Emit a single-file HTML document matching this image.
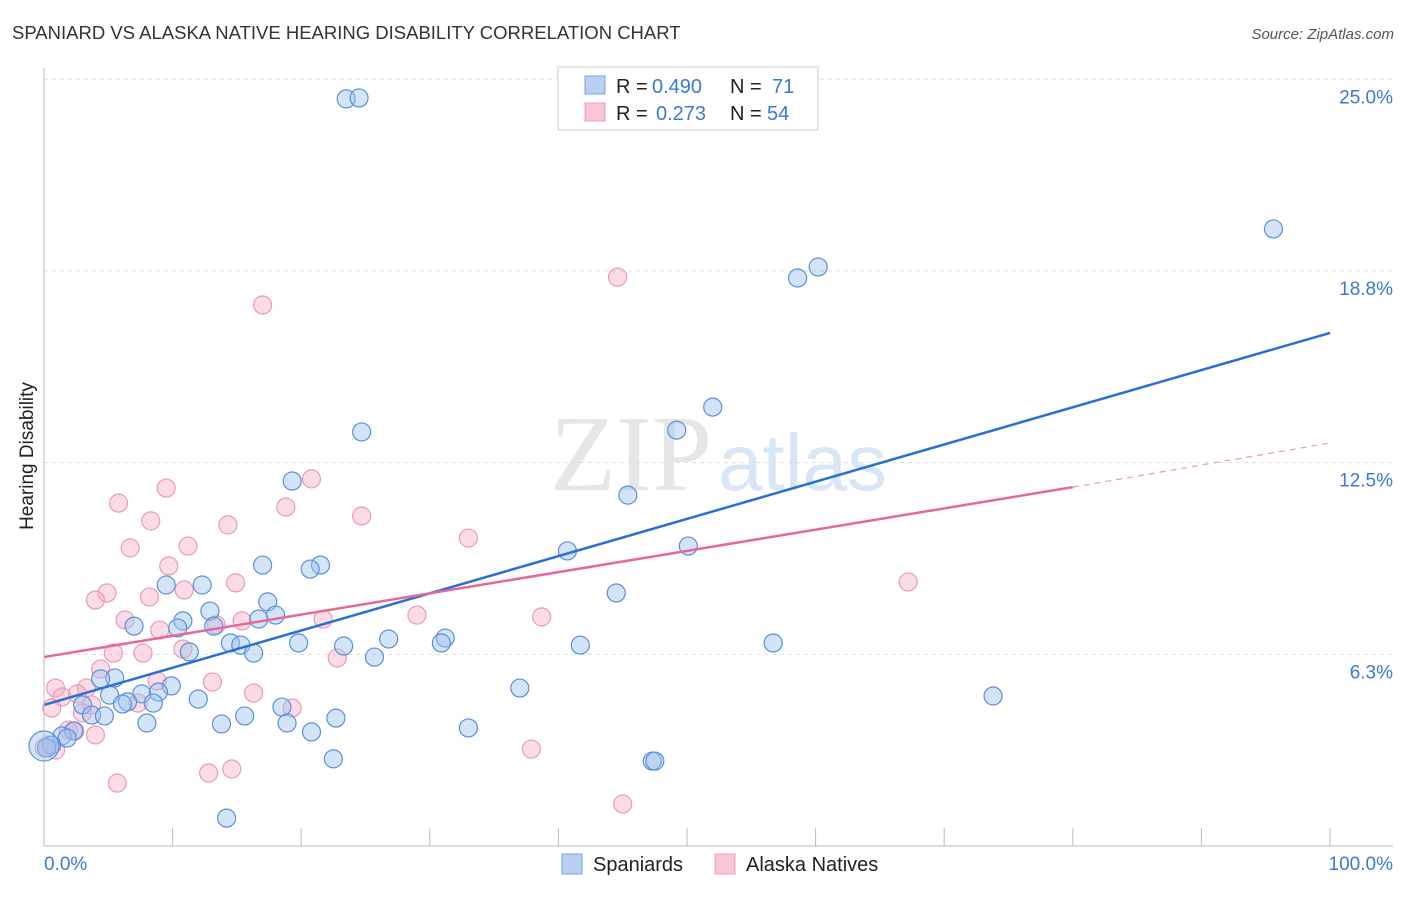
<!DOCTYPE html>
<html><head><meta charset="utf-8"><style>
body{margin:0;background:#fff;font-family:"Liberation Sans",sans-serif}
</style></head><body>
<svg width="1406" height="892" xmlns="http://www.w3.org/2000/svg" id="c" style="font-family:'Liberation Sans',sans-serif">
<text x="12" y="39" font-size="18.5" fill="#333">SPANIARD VS ALASKA NATIVE HEARING DISABILITY CORRELATION CHART</text>
<text x="1394" y="39" font-size="15" fill="#555" font-style="italic" text-anchor="end">Source: ZipAtlas.com</text>
<text x="33" y="456" font-size="19" fill="#222" text-anchor="middle" transform="rotate(-90 33 456)">Hearing Disability</text>
<text x="712" y="490" font-size="108" fill="#e6e6e6" text-anchor="end" font-family="Liberation Serif">ZIP</text>
<text x="718" y="490" font-size="80" fill="#d8e6f6">atlas</text>
<g id="grid"></g><g id="pts"></g><g id="lines"></g>
<line x1="44" y1="68" x2="44" y2="846" stroke="#bbb"/>
<line x1="44" y1="846" x2="1393" y2="846" stroke="#bbb"/>
<text x="44" y="870" font-size="19" fill="#3b78d8">0.0%</text>
<text x="1393" y="870" font-size="19" fill="#3b78d8" text-anchor="end">100.0%</text>
<g>
<rect x="558" y="67" width="260" height="63" fill="#fff" stroke="#ccc"/>
<rect x="585" y="76" width="20" height="18" fill="#b7d0f3" stroke="#7aa3e0"/>
<rect x="585" y="103" width="20" height="18" fill="#f9c6d6" stroke="#eaa0b8"/>
<text x="616" y="93" font-size="20" fill="#222">R = <tspan x="652" fill="#3b78d8">0.490</tspan><tspan x="730">N = </tspan><tspan x="772" fill="#3b78d8">71</tspan></text>
<text x="616" y="120" font-size="20" fill="#222">R = <tspan x="656" fill="#3b78d8">0.273</tspan><tspan x="730">N = </tspan><tspan x="767" fill="#3b78d8">54</tspan></text>
</g>
<g>
<rect x="562" y="854" width="20" height="20" fill="#b7d0f3" stroke="#7aa3e0"/>
<text x="593" y="871" font-size="20" fill="#222">Spaniards</text>
<rect x="715" y="854" width="20" height="20" fill="#f9c6d6" stroke="#eaa0b8"/>
<text x="746" y="871" font-size="20" fill="#222">Alaska Natives</text>
</g>
</svg>
<script>
const yTicks=[6.25,12.5,18.75,25];
const yTickLabels=["6.3%","12.5%","18.8%","25.0%"];
const xTicks=[0,10,20,30,40,50,60,70,80,90,100];
const blueX=[23.5,24.5,95.6,58.6,60.2,52.0,49.2,24.7,45.4,19.3,40.7,50.1,21.5,20.7,17.0,9.5,12.3,44.5,17.4,12.9,10.8,7.0,10.4,13.2,18.0,16.7,14.5,15.3,16.3,19.8,23.3,26.8,31.2,30.9,25.7,41.7,56.7,11.3,5.5,4.4,9.9,5.1,7.6,8.9,6.5,6.1,8.5,12.0,3.0,3.7,4.7,15.6,18.5,22.7,8.0,13.8,18.9,20.8,33.0,37.0,73.8,2.3,1.4,1.8,0.6,0.2,22.5,47.3,47.5,14.2,0];
const blueY=[24.36,24.39,20.12,18.52,18.88,14.31,13.56,13.5,11.44,11.9,9.62,9.78,9.16,9.03,9.16,8.51,8.51,8.25,7.96,7.66,7.34,7.17,7.11,7.17,7.53,7.4,6.62,6.55,6.29,6.62,6.52,6.75,6.78,6.62,6.16,6.55,6.62,6.33,5.48,5.45,5.22,4.92,4.96,5.02,4.7,4.63,4.66,4.79,4.6,4.27,4.24,4.24,4.53,4.17,4.01,3.98,4.01,3.72,3.85,5.15,4.89,3.75,3.59,3.52,3.29,3.2,2.84,2.77,2.77,0.91,3.26];
const pinkX=[44.6,17.0,20.8,9.5,5.8,18.8,24.7,8.3,14.3,33.0,11.2,6.7,9.7,14.9,67.2,4.9,4.0,8.2,10.9,29.0,38.7,6.3,21.7,15.4,13.4,9.0,5.4,7.7,10.8,22.8,4.4,13.1,8.8,0.9,3.3,16.3,1.4,2.6,19.3,0.6,3.7,7.3,3.0,1.9,2.4,4.0,37.9,14.6,12.8,5.7,45.0,0.9,0.3,0];
const pinkY=[18.55,17.64,11.97,11.67,11.18,11.05,10.76,10.6,10.47,10.04,9.78,9.72,9.13,8.58,8.61,8.25,8.02,8.12,8.35,7.53,7.47,7.37,7.4,7.34,7.21,7.04,6.29,6.29,6.42,6.13,5.77,5.35,5.38,5.15,5.15,4.99,4.86,4.96,4.5,4.5,4.6,4.66,4.34,3.78,3.75,3.62,3.16,2.51,2.38,2.05,1.37,3.13,3.29,3.2];
const blueTrendX=[0,100], blueTrendY=[4.6,16.73];
const pinkTrendX=[0,80,100], pinkTrendY=[6.16,11.7,13.14];
const sx=v=>44+v*12.86, sy=v=>846-v*30.67;
const NS="http://www.w3.org/2000/svg";
function mk(t,a,p){const e=document.createElementNS(NS,t);for(const k in a)e.setAttribute(k,a[k]);p.appendChild(e);return e;}
const grid=document.getElementById('grid');
yTicks.forEach((v,i)=>{
 const l=mk('line',{x1:44,x2:1393,y1:sy(v),y2:sy(v),stroke:'#ddd','stroke-dasharray':'4 4'},grid);
 
 
 const t=mk('text',{x:1393,y:sy(v)+24,'font-size':19,fill:'#3b78d8','text-anchor':'end'},grid);
 t.textContent=yTickLabels[i];
 
 
});
xTicks.forEach(v=>{
 const l=mk('line',{x1:sx(v),x2:sx(v),y1:828,y2:846,stroke:'#bbb'},grid);
 
 
});
const pts=document.getElementById('pts');
pinkX.forEach((x,i)=>{
 const c=mk('circle',{cx:sx(x),cy:sy(pinkY[i]),r:9,fill:'rgba(244,168,192,0.4)',stroke:'#ec9ab4','stroke-width':1.2},pts);
 
 
});
blueX.forEach((x,i)=>{
 const c=mk('circle',{cx:sx(x),cy:sy(blueY[i]),r:(i==blueX.length-1?15:9),fill:'rgba(160,195,240,0.45)',stroke:'#5a8fdc','stroke-width':1.2},pts);
 
 
});
const lines=document.getElementById('lines');
let b=mk('line',{x1:sx(blueTrendX[0]),y1:sy(blueTrendY[0]),x2:sx(blueTrendX[1]),y2:sy(blueTrendY[1]),stroke:'#2a6fd6','stroke-width':2.5},lines);


let p=mk('line',{x1:sx(pinkTrendX[0]),y1:sy(pinkTrendY[0]),x2:sx(pinkTrendX[1]),y2:sy(pinkTrendY[1]),stroke:'#e4689a','stroke-width':2.5},lines);


let pd=mk('line',{x1:sx(pinkTrendX[1]),y1:sy(pinkTrendY[1]),x2:sx(pinkTrendX[2]),y2:sy(pinkTrendY[2]),stroke:'#e89ab8','stroke-width':1.2,'stroke-dasharray':'6 5'},lines);


</script>
</body></html>
